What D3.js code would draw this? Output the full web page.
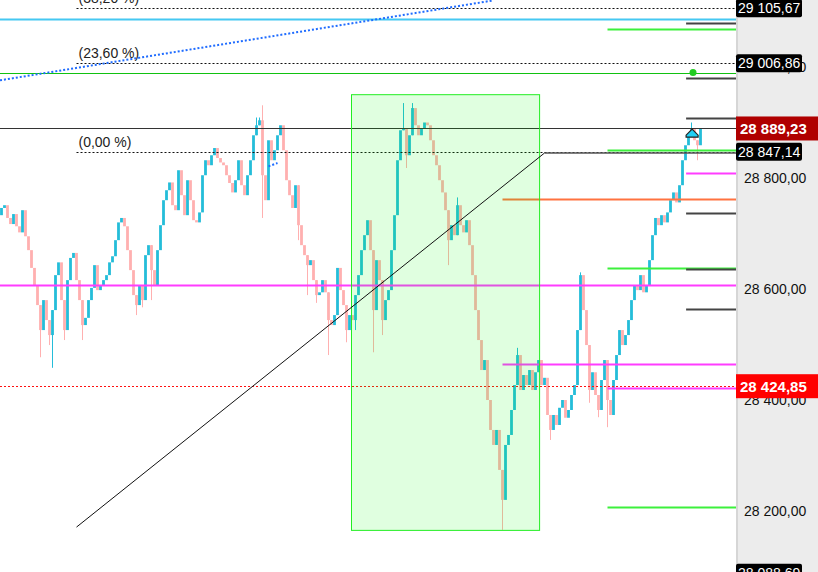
<!DOCTYPE html>
<html>
<head>
<meta charset="utf-8">
<script src="https://cdn.jsdelivr.net/npm/d3@7"></script>
<style>
  body { margin: 0; background: #fff; }
  svg { display: block; font-family: "Liberation Sans", Arial, sans-serif; }
</style>
</head>
<body>
<div id="chart"></div>
<script>
// bar closes, one per bar; the open of each bar is the previous close
const firstOpen = 28733;
const closes = [
    28746, 28751, 28728, 28717, 28735, 28713, 28702, 28742, 28695, 28670,
    28638, 28607, 28571, 28526, 28580, 28544, 28517, 28562, 28625, 28648,
    28580, 28526, 28616, 28656, 28665, 28616, 28580, 28535, 28548, 28580,
    28602, 28643, 28598, 28607, 28616, 28625, 28648, 28659, 28688, 28720,
    28728, 28713, 28670, 28634, 28589, 28571, 28607, 28580, 28661, 28679,
    28634, 28607, 28670, 28715, 28760, 28778, 28792, 28751, 28742, 28814,
    28769, 28733, 28796, 28760, 28724, 28720, 28738, 28805, 28832, 28823,
    28841, 28854, 28836, 28828, 28823, 28805, 28791, 28774, 28796, 28832,
    28787, 28769, 28805, 28832, 28877, 28895, 28904, 28805, 28760, 28868,
    28832, 28850, 28877, 28895, 28850, 28796, 28769, 28746, 28787, 28715,
    28679, 28661, 28643, 28652, 28616, 28589, 28594, 28616, 28594, 28544,
    28535, 28553, 28638, 28598, 28571, 28526, 28553, 28544, 28589, 28625,
    28670, 28697, 28724, 28670, 28562, 28652, 28616, 28544, 28580, 28598,
    28670, 28733, 28832, 28886, 28890, 28841, 28877, 28926, 28895, 28877,
    28890, 28900, 28895, 28868, 28841, 28823, 28796, 28774, 28742, 28688,
    28715, 28697, 28751, 28715, 28702, 28724, 28679, 28625, 28562, 28508,
    28454, 28472, 28400, 28346, 28319, 28346, 28274, 28220, 28319, 28337,
    28382, 28427, 28481, 28418, 28445, 28427, 28454, 28418, 28450, 28472,
    28427, 28440, 28373, 28346, 28373, 28355, 28386, 28400, 28368, 28382,
    28409, 28427, 28526, 28625, 28562, 28499, 28418, 28450, 28409, 28382,
    28436, 28472, 28400, 28373, 28436, 28481, 28526, 28499, 28517, 28544,
    28580, 28607, 28598, 28625, 28594, 28607, 28652, 28697, 28728, 28715,
    28733, 28720, 28738, 28760, 28774, 28756, 28787, 28832, 28859, 28877,
    28890, 28868, 28859, 28889.23
];
// [bar index, price] for the wicks that stick out of the bodies
const highWicks = [[85, 28909], [86, 28909], [87, 28931], [134, 28935], [137, 28935],
    [152, 28765], [172, 28494], [193, 28630], [230, 28900]];
const lowWicks = [[13, 28477], [16, 28499], [17, 28458], [21, 28508], [27, 28508],
    [45, 28553], [47, 28567], [50, 28580], [87, 28728], [99, 28688], [102, 28589],
    [105, 28575], [109, 28481], [115, 28504], [118, 28526], [124, 28486], [127, 28517],
    [135, 28818], [149, 28643], [167, 28166], [183, 28328], [196, 28395], [199, 28369],
    [202, 28351], [232, 28832]];

const tickValues = [28200, 28400, 28600, 28800, 29000];

// fibonacci retracement levels and their labels
const fibLevels = [28847.14, 29006.86, 29105.67];
const fibLabels = ["(0,00 %)", "(23,60 %)", "(38,20 %)"];

const lastPrice = 28889.23;
const alertPrice = 28424.85;
const bottomPrice = 28088.69;

// full width levels
const cyanLevel = 29086;
const greenLevel = 28990;
const magentaLevel = 28607;

// short levels on the right
const greenShort = [29068, 28850, 28638, 28207];
const grayShort = [29079, 28980, 28908, 28737, 28636, 28564];
const magentaShort = [28809];
const magentaMid = [28465, 28422];
const orangeLevel = 28762;

// box: [first bar, last bar, high, low]
const rangeBox = [116.5, 179.2, 28951, 28166];
// trend line: [bar, price] points
const trendLine = [[25, 28171], [181, 28845]];
const blueChannel = [[-0.5, 28976], [164, 29120]];
const blueStub = [[89, 28821], [92, 28827]];
const greenDot = [230.5, 28990];
const marker = [230.2, 28879];

const W = 818, H = 572, axisLeft = 736;

let svg = d3.select("#chart").append("svg")
    .attr("width", W)
    .attr("height", H);

let x = d3.scaleLinear().domain([0, closes.length - 1]).range([1.5, 700.5]);
let y = d3.scaleLinear().domain([28200, 28800]).range([511, 178]);
let xEnd = x.invert(axisLeft);

let fmt = d3.formatLocale({decimal: ",", thousands: " ", grouping: [3], currency: ["", ""]}).format(",.2f");

let bars = closes.map(function (c, i) {
    let o = i === 0 ? firstOpen : closes[i - 1];
    return {i: i, open: o, close: c, high: Math.max(o, c), low: Math.min(o, c)};
});
highWicks.forEach(d => bars[d[0]].high = d[1]);
lowWicks.forEach(d => bars[d[0]].low = d[1]);

const upColor = "#24bdd9", downColor = "#ffb0b0";
let plot = svg.append("g");

// wicks
plot.selectAll(".wick")
    .data(bars.filter(d => d.high > Math.max(d.open, d.close) || d.low < Math.min(d.open, d.close)))
    .enter().append("line")
    .attr("x1", d => x(d.i)).attr("x2", d => x(d.i))
    .attr("y1", d => y(d.high)).attr("y2", d => y(d.low))
    .attr("stroke", d => d.close >= d.open ? upColor : downColor)
    .attr("stroke-width", 1);

// bodies
plot.selectAll(".bar")
    .data(bars)
    .enter().append("rect")
    .attr("class", "bar")
    .attr("x", d => x(d.i) - 1.4)
    .attr("width", 2.8)
    .attr("y", d => y(Math.max(d.open, d.close)))
    .attr("height", d => Math.max(1.5, y(Math.min(d.open, d.close)) - y(Math.max(d.open, d.close))))
    .style("fill", d => d.close >= d.open ? upColor : downColor);

function hline(price, from, color, width, dash) {
    let l = plot.append("line")
        .attr("x1", x(from)).attr("x2", x(xEnd))
        .attr("y1", Math.round(y(price)) + 0.5).attr("y2", Math.round(y(price)) + 0.5)
        .attr("stroke", color)
        .attr("stroke-width", width);
    if (dash) l.attr("stroke-dasharray", dash);
    return l;
}

let xStart = x.invert(0);
hline(cyanLevel, xStart, "#45c8f2", 2);
hline(greenLevel, xStart, "#11c211", 1);
hline(lastPrice, xStart, "#333333", 1);
hline(magentaLevel, xStart, "#ff3cff", 2);
hline(alertPrice, xStart, "#ff1010", 1, "2,2");

fibLevels.forEach(function (v, k) {
    hline(v, 25, "#111", 1, "2,2");
    plot.append("text")
        .attr("x", x(25) + 2)
        .attr("y", Math.round(y(v)) - 5)
        .attr("font-size", 14)
        .attr("fill", "#222")
        .text(fibLabels[k]);
});

greenShort.forEach(v => hline(v, 202, "#3cf03c", 2));
grayShort.forEach(v => hline(v, 228.2, "#444", 2));
magentaShort.forEach(v => hline(v, 228.2, "#ff3cff", 2));
magentaMid.forEach((v, k) => hline(v, k === 0 ? 167 : 202, "#ff3cff", 2));
hline(orangeLevel, 167, "#ff7240", 2);

// range box drawn over the bars
plot.append("rect")
    .attr("x", x(rangeBox[0]) + 0.5)
    .attr("y", y(rangeBox[2]) + 0.5)
    .attr("width", x(rangeBox[1]) - x(rangeBox[0]))
    .attr("height", y(rangeBox[3]) - y(rangeBox[2]))
    .attr("fill", "rgba(0,255,0,0.12)")
    .attr("stroke", "#22ee22")
    .attr("stroke-width", 1);

let line = d3.line().x(d => x(d[0])).y(d => y(d[1]));

plot.append("path")
    .attr("d", line(trendLine))
    .attr("fill", "none").attr("stroke", "#111").attr("stroke-width", 1);
plot.append("path")
    .attr("d", line([trendLine[1], [xEnd, trendLine[1][1]]]))
    .attr("fill", "none").attr("stroke", "#555").attr("stroke-width", 1.5);

plot.append("path")
    .attr("d", line(blueChannel))
    .attr("fill", "none").attr("stroke", "#1f6cff").attr("stroke-width", 2)
    .attr("stroke-dasharray", "2,2");
plot.append("path")
    .attr("d", line(blueStub))
    .attr("fill", "none").attr("stroke", "#1f6cff").attr("stroke-width", 2)
    .attr("stroke-dasharray", "2,2");

plot.append("circle")
    .attr("cx", x(greenDot[0])).attr("cy", y(greenDot[1]))
    .attr("r", 3.5).attr("fill", "#22cc22");

plot.append("path")
    .attr("transform", "translate(" + x(marker[0]) + "," + y(marker[1]) + ")")
    .attr("d", "M-6,3 L-6,1 L0,-5 L6,1 L6,3 Z")
    .attr("fill", "#1fd0f5")
    .attr("stroke", "#222")
    .attr("stroke-width", 1.2);

// price axis on the right
let axis = svg.append("g");
axis.append("rect")
    .attr("x", axisLeft).attr("y", 0)
    .attr("width", W - axisLeft).attr("height", H)
    .attr("fill", "#ececec");
axis.append("line")
    .attr("x1", axisLeft + 1).attr("x2", axisLeft + 1)
    .attr("y1", 0).attr("y2", H)
    .attr("stroke", "#d6d6d6").attr("stroke-width", 2);

axis.selectAll(".tick")
    .data(tickValues)
    .enter().append("text")
    .attr("x", 744)
    .attr("y", d => y(d) + 5)
    .attr("font-size", 14)
    .attr("fill", "#111")
    .text(d => fmt(d));

function priceTag(v, bg, bold, w) {
    let cy = y(v);
    let h = bold ? 24 : 18;
    axis.append("rect")
        .attr("x", axisLeft).attr("y", cy - h / 2)
        .attr("width", w).attr("height", h)
        .attr("rx", bold ? 0 : 2)
        .attr("fill", bg);
    axis.append("text")
        .attr("x", bold ? 740 : 738)
        .attr("y", cy + (bold ? 5.5 : 5))
        .attr("font-size", bold ? 15 : 14)
        .attr("font-weight", bold ? "bold" : "normal")
        .attr("fill", "#fff")
        .text(fmt(v));
}

fibLevels.forEach(v => priceTag(v, "#000", false, 66));
priceTag(bottomPrice, "#000", false, 66);
priceTag(lastPrice, "#b00000", true, W - axisLeft);
priceTag(alertPrice, "#ff0000", true, W - axisLeft);
</script>
</body>
</html>
